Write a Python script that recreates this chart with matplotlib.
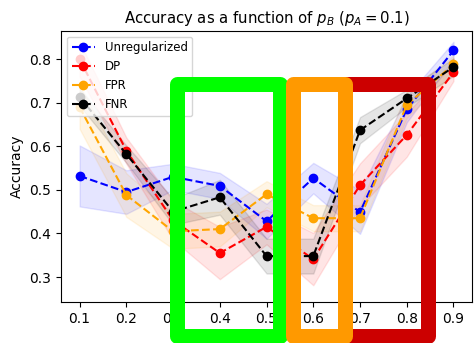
import matplotlib
matplotlib.use('Agg')
import matplotlib.pyplot as plt
from matplotlib.patches import Rectangle
import numpy as np

# p_B values
p_b = [0.1, 0.2, 0.3, 0.4, 0.5, 0.6, 0.7, 0.8, 0.9]

# mean accuracy per method
unreg = [0.532, 0.495, 0.530, 0.509, 0.428, 0.527, 0.449, 0.685, 0.820]
dp = [0.800, 0.590, 0.430, 0.355, 0.415, 0.341, 0.511, 0.626, 0.770]
fpr = [0.690, 0.488, 0.405, 0.410, 0.490, 0.435, 0.435, 0.695, 0.788]
fnr = [0.713, 0.582, 0.450, 0.483, 0.348, 0.348, 0.637, 0.710, 0.782]

# spread (shaded band half-width)
unreg_sd = [0.070, 0.050, 0.030, 0.030, 0.040, 0.035, 0.050, 0.030, 0.020]
dp_sd = [0.040, 0.030, 0.045, 0.060, 0.040, 0.060, 0.050, 0.050, 0.020]
fpr_sd = [0.050, 0.050, 0.040, 0.040, 0.030, 0.030, 0.030, 0.030, 0.020]
fnr_sd = [0.020, 0.020, 0.030, 0.040, 0.040, 0.040, 0.030, 0.020, 0.020]

series = [('Unregularized', unreg, unreg_sd, 'blue'),
          ('DP', dp, dp_sd, 'red'),
          ('FPR', fpr, fpr_sd, 'orange'),
          ('FNR', fnr, fnr_sd, 'black')]

fig = plt.figure(figsize=(4.76, 3.43), dpi=100)
ax = fig.add_axes([0.128, 0.12, 0.864, 0.79])

for name, mean, sd, col in series:
    m = np.array(mean)
    s = np.array(sd)
    ax.plot(p_b, m, 'o--', color=col, label=name)
    ax.fill_between(p_b, m - s, m + s, color=col, alpha=0.1)

ax.set_xlim(0.06, 0.94)
ax.set_ylim(0.243, 0.865)
ax.set_xticks(p_b)
ax.set_ylabel('Accuracy')
ax.set_title('Accuracy as a function of $p_B$ ($p_A = 0.1$)', fontsize=10.7)
ax.legend(loc='upper left', fontsize=8.5)

# highlight boxes drawn over the chart (pixel coords, y from top)
W, H = 476.0, 343.0
boxes = [(176.5, 84, 280, 335.5, '#00ff00'),
         (345, 84, 427.5, 335.5, '#cc0000'),
         (293, 84, 345, 335.5, '#ff9900')]
for x0, y0, x1, y1, col in boxes:
    r = Rectangle((x0 / W, 1 - y1 / H), (x1 - x0) / W, (y1 - y0) / H,
                  transform=fig.transFigure, fill=False, edgecolor=col,
                  linewidth=15 * 72 / 100, joinstyle='round', clip_on=False)
    fig.add_artist(r)

fig.savefig('out.png', dpi=100)
